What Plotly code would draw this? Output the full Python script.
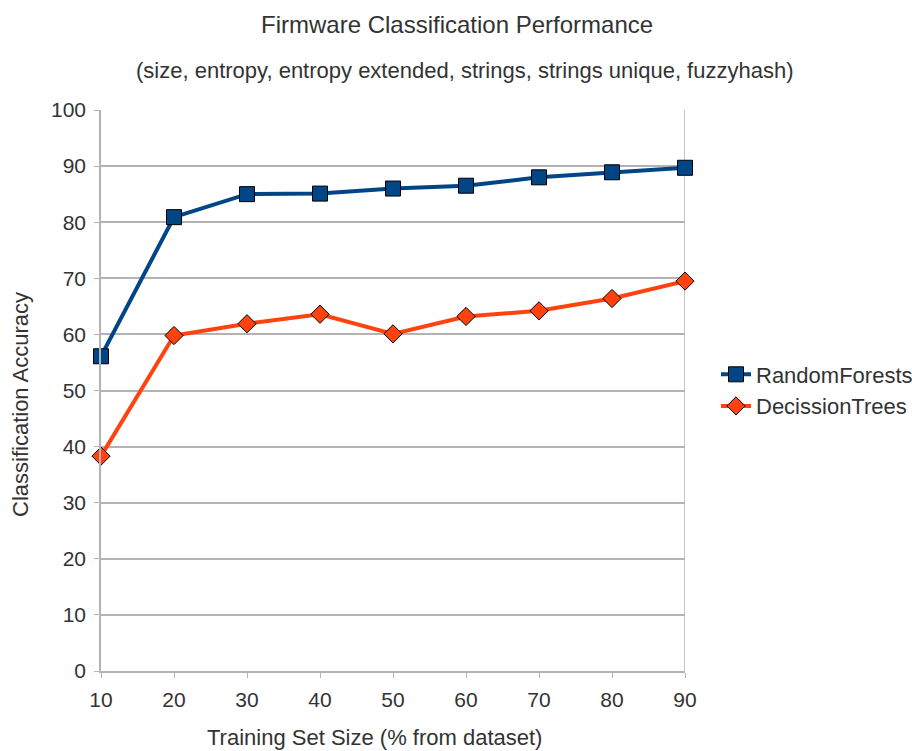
import plotly.graph_objects as go

# Training set sizes (% of dataset) and accuracy per classifier
train_size = [10, 20, 30, 40, 50, 60, 70, 80, 90]
random_forests = [56.1, 80.9, 85.0, 85.1, 86.0, 86.5, 88.0, 88.9, 89.7]
decision_trees = [38.3, 59.8, 61.9, 63.6, 60.1, 63.2, 64.2, 66.4, 69.5]
y_ticks = [0, 10, 20, 30, 40, 50, 60, 70, 80, 90, 100]

FONT = "Liberation Sans, Arial, sans-serif"
TXT = "#333333"
GRID = "#b3b3b3"

# plot area in pixels: left 101, right 685, top 110, bottom 671
L, R, T, B = 101, 685, 110, 671


def px_x(x):
    return (x - L) / (R - L)


def px_y(y):
    return (B - y) / (B - T)


fig = go.Figure()
fig.add_trace(go.Scatter(
    x=train_size, y=random_forests, name="RandomForests", mode="lines+markers",
    line=dict(color="#004586", width=4), cliponaxis=False,
    marker=dict(symbol="square", size=15, color="#004586",
                line=dict(color="#000000", width=1)),
))
fig.add_trace(go.Scatter(
    x=train_size, y=decision_trees, name="DecissionTrees", mode="lines+markers",
    line=dict(color="#ff420e", width=4), cliponaxis=False,
    marker=dict(symbol="diamond", size=14, color="#ff420e",
                line=dict(color="#000000", width=1)),
))

fig.update_layout(
    width=912, height=751,
    margin=dict(l=L, r=912 - R, t=T, b=751 - B, autoexpand=False),
    paper_bgcolor="white", plot_bgcolor="white",
    font=dict(family=FONT, color=TXT, size=21),
    legend=dict(x=px_x(716), y=0.5, xanchor="left", yanchor="middle",
                font=dict(size=22, color=TXT), tracegroupgap=0, itemwidth=30,
                bgcolor="rgba(0,0,0,0)"),
    showlegend=True,
    annotations=[
        dict(text="Firmware Classification Performance", xref="paper", yref="paper",
             x=px_x(457), y=px_y(25), xanchor="center", yanchor="middle",
             showarrow=False, font=dict(size=24, color=TXT)),
        dict(text="(size, entropy, entropy extended, strings, strings unique, fuzzyhash)",
             xref="paper", yref="paper",
             x=px_x(465), y=px_y(71), xanchor="center", yanchor="middle",
             showarrow=False, font=dict(size=22, color=TXT)),
        dict(text="Training Set Size (% from dataset)", xref="paper", yref="paper",
             x=px_x(374), y=px_y(737), xanchor="center", yanchor="middle",
             showarrow=False, font=dict(size=22, color=TXT)),
        dict(text="Classification Accuracy", xref="paper", yref="paper", textangle=-90,
             x=px_x(20), y=px_y(405), xanchor="center", yanchor="middle",
             showarrow=False, font=dict(size=22, color=TXT)),
    ],
)
fig.update_xaxes(
    range=[10, 90], tickvals=train_size, ticktext=[str(v) for v in train_size],
    showgrid=False, zeroline=False,
    showline=True, linecolor=GRID, linewidth=1.5, mirror=False,
    ticks="outside", ticklen=5, tickcolor=GRID, ticklabelstandoff=4,
    tickfont=dict(size=21, color=TXT), automargin=False,
)
fig.update_yaxes(
    range=[0, 100], tickvals=y_ticks,
    showgrid=True, gridcolor=GRID, gridwidth=1.5, zeroline=False,
    showline=True, linecolor=GRID, linewidth=1.5,
    ticks="outside", ticklen=5, tickcolor=GRID, ticklabelstandoff=4,
    tickfont=dict(size=21, color=TXT), automargin=False,
)
# right-hand border of the plot area
fig.add_shape(type="line", xref="x", yref="paper", x0=90, x1=90, y0=0, y1=1,
              line=dict(color=GRID, width=1.5), layer="below")

fig.write_html("out.html")
